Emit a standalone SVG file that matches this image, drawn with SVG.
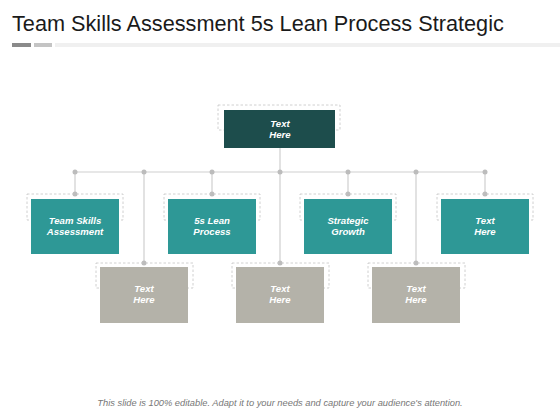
<svg xmlns="http://www.w3.org/2000/svg" width="560" height="420" viewBox="0 0 560 420">
<style>
.title{font-family:"Liberation Sans",Arial,sans-serif;font-size:21.7px;fill:#1a1a1a}
.lbl{font-family:"Liberation Sans",Arial,sans-serif;font-size:9.6px;font-weight:bold;font-style:italic;fill:#ffffff;text-anchor:middle}
.foot{font-family:"Liberation Sans",Arial,sans-serif;font-size:9.3px;font-style:italic;fill:#777777;text-anchor:middle}
.frame{fill:none;stroke:#c4c4c4;stroke-width:0.8;stroke-dasharray:2.5 2}
.dark{fill:#1d4d4c}
.teal{fill:#2e9896}
.gray{fill:#b4b2a9}
.ln{stroke:#cfcfcf;stroke-width:1.2;fill:none}
.dot{fill:#bcbcbc}
</style>
<rect width="560" height="420" fill="#ffffff"/>
<text class="title" x="12" y="31">Team Skills Assessment 5s Lean Process Strategic</text>
<rect x="12" y="43" width="19" height="4" fill="#8a8a8a"/>
<rect x="34" y="43" width="18" height="4" fill="#c4c4c4"/>
<rect x="55" y="43" width="505" height="4" fill="#f0f0f0"/>
<g id="connectors">
<path class="ln" d="M75 172H485M280 148V263M75 172V194M212 172V194M348 172V194M485 172V194M144 172V263M416 172V263"/>
<circle class="dot" cx="75" cy="172" r="2.5"/><circle class="dot" cx="144" cy="172" r="2.5"/><circle class="dot" cx="212" cy="172" r="2.5"/><circle class="dot" cx="280" cy="172" r="2.5"/><circle class="dot" cx="348" cy="172" r="2.5"/><circle class="dot" cx="416" cy="172" r="2.5"/><circle class="dot" cx="485" cy="172" r="2.5"/>
<circle class="dot" cx="75" cy="194" r="2.5"/><circle class="dot" cx="212" cy="194" r="2.5"/><circle class="dot" cx="348" cy="194" r="2.5"/><circle class="dot" cx="485" cy="194" r="2.5"/>
<circle class="dot" cx="144" cy="263" r="2.5"/><circle class="dot" cx="280" cy="263" r="2.5"/><circle class="dot" cx="416" cy="263" r="2.5"/>
</g>
<g id="node-top">
<rect class="frame" x="218" y="105" width="122" height="25"/>
<rect class="dark" x="224" y="110" width="111" height="38"/>
<text class="lbl" x="280" y="127">Text</text><text class="lbl" x="280" y="138">Here</text>
</g>
<g id="node-team">
<rect class="frame" x="27" y="194" width="96" height="26"/>
<rect class="teal" x="31" y="199" width="88" height="55"/>
<text class="lbl" x="75" y="224">Team Skills</text><text class="lbl" x="75" y="235">Assessment</text>
</g>
<g id="node-lean">
<rect class="frame" x="164" y="194" width="96" height="26"/>
<rect class="teal" x="168" y="199" width="88" height="55"/>
<text class="lbl" x="212" y="224">5s Lean</text><text class="lbl" x="212" y="235">Process</text>
</g>
<g id="node-strategic">
<rect class="frame" x="300" y="194" width="96" height="26"/>
<rect class="teal" x="304" y="199" width="88" height="55"/>
<text class="lbl" x="348" y="224">Strategic</text><text class="lbl" x="348" y="235">Growth</text>
</g>
<g id="node-teal4">
<rect class="frame" x="437" y="194" width="96" height="26"/>
<rect class="teal" x="441" y="199" width="88" height="55"/>
<text class="lbl" x="485" y="224">Text</text><text class="lbl" x="485" y="235">Here</text>
</g>
<g id="node-gray1">
<rect class="frame" x="96" y="263" width="97" height="25"/>
<rect class="gray" x="100" y="267" width="88" height="56"/>
<text class="lbl" x="144" y="292">Text</text><text class="lbl" x="144" y="303">Here</text>
</g>
<g id="node-gray2">
<rect class="frame" x="232" y="263" width="97" height="25"/>
<rect class="gray" x="236" y="267" width="88" height="56"/>
<text class="lbl" x="280" y="292">Text</text><text class="lbl" x="280" y="303">Here</text>
</g>
<g id="node-gray3">
<rect class="frame" x="368" y="263" width="97" height="25"/>
<rect class="gray" x="372" y="267" width="88" height="56"/>
<text class="lbl" x="416" y="292">Text</text><text class="lbl" x="416" y="303">Here</text>
</g>
<text class="foot" x="280" y="406">This slide is 100% editable. Adapt it to your needs and capture your audience's attention.</text>
</svg>
